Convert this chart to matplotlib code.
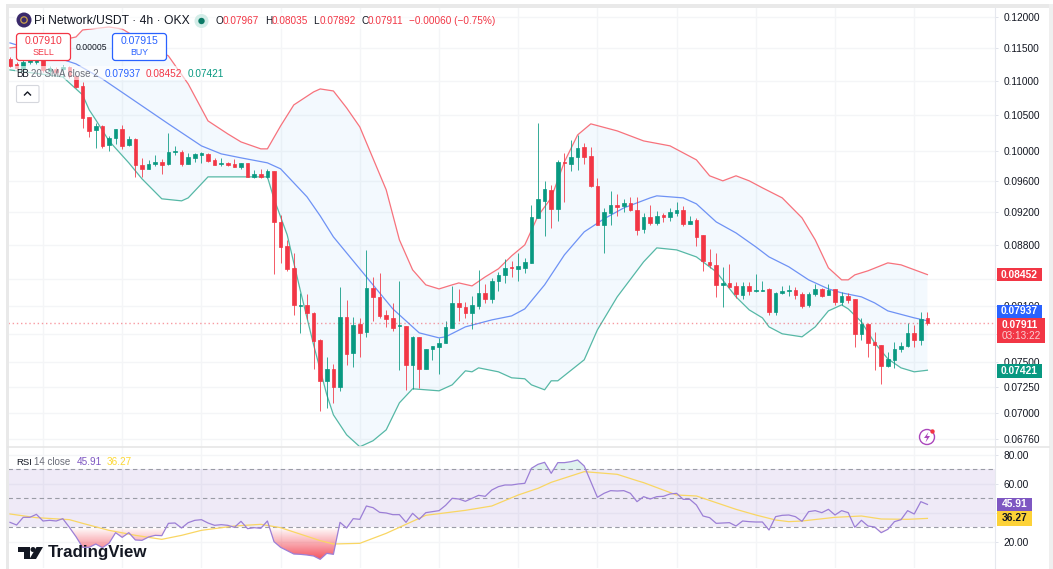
#!/usr/bin/env python3
import numpy as np
import matplotlib
matplotlib.use('Agg')
import matplotlib.pyplot as plt
from matplotlib.patches import Rectangle, FancyBboxPatch, Circle, Polygon
from matplotlib.path import Path

W, H = 1053, 569
plt.rcParams['font.family'] = ['Liberation Sans', 'DejaVu Sans']

# 4h candles, oldest first
opens = [
    .11335, .11258, .11181, .11289, .11289, .11319, .11151, .11181, .11181, .11212,
    .11075, .10925, .10475, .10291, .10347, .10084, .10180, .10305, .10084, .10166,
    .09813, .09760, .09827, .09853, .09827, .09988, .09988, .09827, .09907, .09947,
    .09961, .09880, .09827, .09840, .09827, .09786, .09840, .09654, .09694, .09654,
    .09733, .09080, .08789, .08530, .08100, .08111, .08023, .07734, .07315, .07435,
    .07256, .07980, .07599, .07904, .07819, .08301, .08200, .08001, .07969, .07883,
    .07883, .07476, .07766, .07435, .07640, .07661, .07703, .07861, .08133, .08089,
    .08023, .08100, .08245, .08178, .08380, .08449, .08542, .08519, .08530, .08588,
    .09130, .09344, .09485, .09243, .09853, .09827, .09920, .10056, .09934, .09537,
    .09043, .09193, .09293, .09281, .09319, .09230, .08994, .09142, .09068, .09167,
    .09142, .09193, .09230, .09055, .09105, .08921, .08600, .08565, .08335, .08357,
    .08323, .08223, .08323, .08267, .08267, .08289, .08034, .08245, .08267, .08278,
    .08234, .08111, .08234, .08289, .08223, .08289, .08144, .08211, .08178, .07798,
    .07904, .07713, .07682, .07466, .07527, .07640, .07672, .07808, .07734, .07967]
highs = [
    .11366, .11289, .11319, .11350, .11366, .11335, .11227, .11212, .11243, .11227,
    .11090, .10985, .10475, .10390, .10361, .10207, .10305, .10361, .10207, .10180,
    .09907, .09880, .09947, .09893, .10249, .10070, .10015, .09974, .09974, .09988,
    .09974, .09907, .09907, .09853, .09893, .09840, .09840, .09746, .09760, .09760,
    .09733, .09167, .08861, .08705, .08245, .08234, .08034, .07745, .07558, .07486,
    .08312, .08167, .07980, .07969, .08741, .08426, .08472, .08056, .08133, .08380,
    .07883, .07777, .07766, .07640, .07672, .07755, .07936, .08323, .08289, .08144,
    .08211, .08507, .08346, .08415, .08484, .08635, .08611, .08705, .08647, .09293,
    .10390, .09602, .09550, .09880, .09974, .10152, .10221, .10111, .10056, .09641,
    .09255, .09472, .09433, .09370, .09395, .09395, .09193, .09293, .09218, .09193,
    .09255, .09332, .09281, .09155, .09130, .08921, .08753, .08705, .08542, .08577,
    .08369, .08369, .08369, .08461, .08380, .08301, .08256, .08323, .08335, .08312,
    .08256, .08256, .08346, .08301, .08346, .08289, .08256, .08245, .08178, .07969,
    .07915, .07819, .07682, .07609, .07713, .07713, .07915, .07893, .08034, .08035]
lows = [
    .11212, .11166, .11166, .11258, .11258, .11136, .11090, .11105, .11060, .11045,
    .10896, .10319, .10193, .10042, .10042, .10001, .10097, .10029, .10070, .09654,
    .09654, .09760, .09800, .09694, .09813, .09947, .09800, .09827, .09853, .09840,
    .09853, .09813, .09800, .09800, .09786, .09760, .09654, .09641, .09641, .09641,
    .08461, .08588, .08496, .08001, .07808, .07958, .07435, .07022, .07051, .07099,
    .07216, .07476, .07456, .07558, .07766, .07936, .07969, .07872, .07830, .07425,
    .07226, .07236, .07246, .07435, .07527, .07385, .07703, .07861, .07936, .07969,
    .07851, .08067, .08133, .08133, .08267, .08357, .08426, .08380, .08472, .08588,
    .09130, .08909, .09007, .09093, .09332, .09733, .09746, .09827, .09524, .09043,
    .08705, .09043, .09155, .09205, .09218, .08921, .08945, .09043, .09043, .09080,
    .09093, .09155, .09031, .09055, .08789, .08496, .08530, .08200, .08089, .08301,
    .08189, .08178, .08223, .08256, .08267, .08001, .08001, .08234, .08211, .08178,
    .08078, .08089, .08211, .08200, .08223, .08111, .08111, .08133, .07661, .07734,
    .07558, .07425, .07285, .07456, .07445, .07609, .07661, .07661, .07682, .07892]
closes = [
    .11227, .11197, .11289, .11319, .11319, .11166, .11197, .11136, .11212, .11075,
    .10910, .10461, .10277, .10347, .10070, .10180, .10305, .10070, .10166, .09813,
    .09760, .09827, .09853, .09813, .09988, .10001, .09827, .09920, .09961, .09974,
    .09867, .09813, .09840, .09813, .09786, .09840, .09654, .09694, .09654, .09733,
    .09080, .08777, .08519, .08111, .08111, .08023, .07723, .07315, .07435, .07256,
    .07980, .07589, .07893, .07808, .08301, .08200, .07990, .07958, .07861, .07890,
    .07476, .07766, .07435, .07640, .07672, .07703, .07872, .08133, .08089, .08023,
    .08111, .08245, .08178, .08380, .08449, .08530, .08530, .08553, .08600, .09142,
    .09370, .09498, .09243, .09853, .09840, .09920, .10042, .09920, .09537, .09043,
    .09205, .09293, .09268, .09319, .09230, .08982, .09142, .09068, .09155, .09142,
    .09205, .09230, .09055, .09093, .08897, .08611, .08565, .08335, .08357, .08312,
    .08234, .08323, .08267, .08278, .08278, .08034, .08245, .08267, .08278, .08223,
    .08100, .08234, .08289, .08211, .08278, .08144, .08211, .08167, .07798, .07904,
    .07703, .07682, .07466, .07537, .07640, .07672, .07808, .07734, .07958, .07911]

# Bollinger bands, bar index and price at each bend of the line
bb_upper_idx = [0, 5, 10, 11, 15, 17, 20, 24, 27, 30, 33, 35, 38, 39, 41, 43, 46, 47, 49, 51,
                53, 57, 59, 61, 63, 65, 67, 68, 70, 72, 74, 76, 78, 80, 82, 84, 86, 88, 92, 96,
                100, 104, 106, 108, 110, 112, 114, 117, 120, 122, 124, 126, 127, 128, 130, 133, 135, 139]
bb_upper = [.11505, .11568, .11678, .11790, .11838, .11806, .11615, .11381, .10955, .10418,
            .10235, .10124, .10029, .10029, .10347, .10647, .10837, .10881, .10851, .10604,
            .10333, .09485, .08861, .08507, .08335, .08289, .08335, .08357, .08323, .08426,
            .08519, .08670, .08801, .09155, .09382, .09853, .10221, .10376, .10277, .10138,
            .10070, .09880, .09668, .09602, .09668, .09602, .09511, .09382, .09130, .08861,
            .08530, .08392, .08392, .08449, .08496, .08588, .08565, .08452]
bb_mid_idx = [0, 5, 10, 14, 18, 24, 29, 32, 35, 39, 41, 43, 45, 47, 49, 54, 58, 62, 65, 66,
              69, 73, 76, 78, 81, 84, 87, 90, 93, 97, 98, 102, 104, 107, 110, 113, 115, 118,
              121, 124, 126, 129, 131, 133, 137, 139]
bb_mid = [.11584, .11427, .11258, .11030, .10764, .10376, .10070, .09961, .09907, .09840,
          .09760, .09576, .09395, .09155, .08897, .08426, .08067, .07808, .07755, .07766,
          .07872, .07947, .07990, .08067, .08335, .08682, .08958, .09118, .09255, .09382,
          .09408, .09382, .09306, .09080, .08945, .08777, .08658, .08542, .08392, .08289,
          .08245, .08200, .08133, .08045, .07969, .07937]
bb_lower_idx = [0, 8, 11, 12, 13, 15, 18, 20, 23, 26, 27, 30, 33, 39, 40, 42, 44, 46, 48, 49,
                51, 53, 55, 57, 59, 61, 65, 67, 69, 70, 71, 74, 76, 78, 79, 81, 82, 83, 87, 89,
                92, 96, 98, 101, 104, 107, 110, 112, 114, 115, 117, 120, 122, 124, 126, 127,
                129, 131, 133, 135, 137, 139]
bb_lower = [.11166, .11060, .10793, .10575, .10432, .10138, .09840, .09628, .09370, .09344,
            .09382, .09654, .09654, .09654, .09370, .08921, .08267, .07682, .07177, .06984,
            .06797, .06687, .06742, .06843, .07099, .07236, .07216, .07275, .07415, .07405,
            .07445, .07405, .07345, .07335, .07275, .07226, .07315, .07315, .07527, .07840,
            .08200, .08600, .08765, .08741, .08658, .08484, .08200, .08056, .07969, .07872,
            .07798, .07766, .07872, .08045, .08111, .08067, .07926, .07703, .07537, .07445,
            .07405, .07421]

rsi = [33.56, 31.72, 37.01, 37.01, 39.07, 34.48, 34.94, 34.48, 36.09, 30.11,
       23.67, 16.32, 16.32, 18.62, 16.09, 19.08, 26.43, 23.21, 26.43, 21.37,
       21.14, 23.44, 24.59, 24.36, 32.87, 33.10, 29.65, 33.33, 34.94, 35.40,
       33.10, 31.49, 31.95, 31.49, 30.11, 34.25, 29.19, 29.88, 29.42, 34.48,
       20.23, 16.32, 14.02, 11.72, 11.49, 11.03, 10.34, 8.04, 12.18, 11.49,
       33.56, 29.65, 36.09, 35.63, 44.82, 43.67, 40.46, 40.00, 38.85, 38.85,
       33.56, 39.77, 35.63, 40.23, 40.92, 41.61, 45.28, 50.11, 49.65, 48.05,
       50.11, 52.18, 51.49, 55.86, 58.16, 59.31, 59.31, 60.00, 60.46, 70.80,
       73.56, 74.94, 67.35, 74.71, 74.71, 75.40, 76.55, 72.41, 61.60, 50.80,
       53.56, 55.40, 55.17, 55.40, 53.56, 47.81, 51.26, 49.65, 51.26, 51.49,
       53.10, 53.56, 49.42, 49.42, 45.51, 37.93, 36.78, 32.87, 33.10, 33.33,
       31.03, 34.48, 34.02, 33.79, 33.79, 28.27, 37.47, 38.39, 38.62, 37.47,
       34.25, 40.92, 41.61, 40.23, 42.52, 38.62, 41.61, 40.23, 30.11, 34.94,
       31.03, 30.34, 26.43, 28.73, 34.02, 35.40, 41.61, 39.31, 47.81, 45.91]
rsi_ma_idx = [0, 4, 9, 11, 15, 19, 23, 26, 29, 34, 38, 41, 47, 49, 53, 57, 59, 63, 69, 73,
              77, 80, 82, 87, 92, 95, 96, 101, 104, 110, 113, 116, 118, 120, 125, 129, 132, 136, 139]
rsi_ma = [39.31, 36.78, 35.40, 32.87, 28.04, 24.59, 21.83, 24.59, 28.04, 31.03,
          32.18, 29.88, 20.92, 18.62, 19.08, 25.97, 30.11, 38.39, 41.83, 44.82,
          52.41, 57.01, 61.14, 68.50, 66.66, 62.29, 60.92, 52.41, 51.72, 42.52,
          38.62, 35.17, 34.02, 34.48, 37.01, 37.93, 35.86, 35.63, 36.27]

price_ticks = [.12, .115, .11, .105, .10, .096, .092, .088, .084, .081, .078, .075, .0725, .07, .0676]
# 0.084, 0.078 sit fully under the coloured price tags
price_hidden = [.084, .078]
rsi_ticks = [80, 60, 40, 20]
grid_bars = list(range(5, 140, 12))

UP = '#089981'
DOWN = '#F23645'
BLUE = '#2962FF'
GRID = '#F4F5F7'
TXT = '#131722'
PURPLE = '#7E57C2'
YELLOW = '#FDD835'

fig = plt.figure(figsize=(W / 100, H / 100), dpi=100, facecolor='white')
ax = fig.add_axes([8 / W, 1 - 447 / H, 987 / W, 440 / H])
ax2 = fig.add_axes([8 / W, 1 - 568 / H, 987 / W, 121 / H])

x = np.arange(len(closes))
xlim = (-0.303, 149.24)

# ---- price pane
ax.set_yscale('log')
ax.set_xlim(xlim)
ax.set_ylim(.06685, .12164)
for b in grid_bars:
    ax.axvline(b, color=GRID, lw=1, zorder=0)
for t in price_ticks:
    ax.axhline(t, color=GRID, lw=1, zorder=0)

poly_x = np.r_[bb_upper_idx, bb_lower_idx[::-1]]
poly_y = np.r_[bb_upper, bb_lower[::-1]]
ax.fill(poly_x, poly_y, color='#2196F3', alpha=0.05, lw=0, zorder=1)
ax.plot(bb_upper_idx, bb_upper, color='#F7727C', lw=0.9, zorder=2)
ax.plot(bb_mid_idx, bb_mid, color='#6E92F5', lw=0.9, zorder=2)
ax.plot(bb_lower_idx, bb_lower, color='#56B8A6', lw=0.9, zorder=2)

colors = [UP if c >= o else DOWN for o, c in zip(opens, closes)]
ax.vlines(x, lows, highs, colors=colors, lw=0.72, alpha=0.8, zorder=3)
body_low = np.minimum(opens, closes)
body_h = np.abs(np.array(closes) - np.array(opens))
ax.bar(x, body_h, width=0.56, bottom=body_low, color=colors, edgecolor=colors, lw=0.5, zorder=4)
ax.axhline(closes[-1], color=DOWN, lw=1, ls=(0, (1, 2)), alpha=0.5, zorder=3)

ax.minorticks_off()
ax.yaxis.tick_right()
ax.set_yticks(price_ticks)
ax.set_yticklabels(['' if t in price_hidden else f'{t:.5f}' for t in price_ticks])
ax.tick_params(axis='y', which='major', length=2.5, width=0.7, color='#E0E3EB', labelsize=7.3, labelcolor=TXT, pad=3.5)
ax.tick_params(axis='y', which='minor', length=0)
ax.set_xticks([])

# ---- rsi pane
ax2.set_xlim(xlim)
ax2.set_ylim(2.07, 85.5)
for b in grid_bars:
    ax2.axvline(b, color=GRID, lw=1, zorder=0)
for t in rsi_ticks:
    ax2.axhline(t, color=GRID, lw=1, zorder=0)
ax2.axhspan(30, 70, color=PURPLE, alpha=0.12, lw=0, zorder=1)
for level in (70, 50, 30):
    ax2.axhline(level, color='#9A9CA6', lw=0.8, ls=(0, (4, 3)), zorder=2)

rsi_arr = np.array(rsi)
# oversold part fades from the 30 line down to solid red
grad = np.zeros((64, 2, 4))
grad[..., :3] = matplotlib.colors.to_rgb(DOWN)
grad[..., 3] = np.linspace(0.0, 0.9, 64)[:, None]
low_fill = ax2.fill_between(x, rsi_arr, 30, where=rsi_arr < 30, interpolate=True, color='none', lw=0)
im = ax2.imshow(grad, extent=(xlim[0], xlim[1], 7, 30), aspect='auto', zorder=2, interpolation='bilinear')
im.set_clip_path(Path.make_compound_path(*low_fill.get_paths()), transform=ax2.transData)
ax2.fill_between(x, rsi_arr, 70, where=rsi_arr > 70, interpolate=True, color=UP, alpha=0.12, lw=0, zorder=2)
ax2.set_xlim(xlim)
ax2.set_ylim(2.07, 85.5)

ax2.plot(rsi_ma_idx, rsi_ma, color='#F9D663', lw=0.9, zorder=3)
ax2.plot(x, rsi, color='#9C7FD6', lw=0.9, zorder=4)

ax2.yaxis.tick_right()
ax2.set_yticks(rsi_ticks)
ax2.set_yticklabels(['' if t == 40 else f'{t:.2f}' for t in rsi_ticks])
ax2.tick_params(axis='y', length=2.5, width=0.7, color='#E0E3EB', labelsize=7.3, labelcolor=TXT, pad=3.5)
ax2.set_xticks([])

for a in (ax, ax2):
    for s in a.spines.values():
        s.set_visible(False)
    a.spines['right'].set_visible(True)
    a.spines['right'].set_color('#E6E8EE')
    a.spines['right'].set_linewidth(0.8)
    a.patch.set_alpha(0)

# ---- overlay in pixels for everything that is chrome
ov = fig.add_axes([0, 0, 1, 1], zorder=10)
ov.set_xlim(0, W)
ov.set_ylim(H, 0)
ov.axis('off')
ov.patch.set_alpha(0)


def price_y(a, val):
    return H - a.transData.transform((0, val))[1]


def label_box(y, s, color, x0=997, x1=1042, h=13.5, fc='white', size=7.4):
    ov.add_patch(Rectangle((x0, y - h / 2), x1 - x0, h, color=color, lw=0, zorder=5))
    ov.text((x0 + x1) / 2, y, s, color=fc, fontsize=size, ha='center', va='center', fontweight='bold', zorder=6)


# window edges
ov.add_patch(Rectangle((6, 4), W - 6, 3.5, color='#E9E9E9', lw=0))
ov.add_patch(Rectangle((6, 4), 2.5, H - 4, color='#E9E9E9', lw=0))
ov.add_patch(Rectangle((1049, 4), 4, H - 4, color='#EFEFEF', lw=0))
ov.plot([8, 1049], [447, 447], color='#E6E6E6', lw=1.2)

# price labels on the axis
label_box(price_y(ax, bb_upper[-1]), f'{bb_upper[-1]:.5f}', DOWN)
label_box(price_y(ax, bb_lower[-1]) + 1, f'{bb_lower[-1]:.5f}', UP)
yc = price_y(ax, closes[-1])
ov.add_patch(Rectangle((997, yc - 5.5), 48, 25, color=DOWN, lw=0, zorder=5))
ov.text(1020, yc + 1.5, f'{closes[-1]:.5f}', color='white', fontsize=7.4, fontweight='bold', ha='center', va='center', zorder=6)
ov.text(1021, yc + 12.5, '03:13:22', color='#FBD0D4', fontsize=7.2, ha='center', va='center', zorder=6)
label_box(yc - 12, f'{bb_mid[-1]:.5f}', BLUE, h=13)
label_box(price_y(ax2, rsi[-1]), f'{rsi[-1]:.2f}', PURPLE, x1=1032, h=13)
label_box(price_y(ax2, rsi_ma[-1]), f'{rsi_ma[-1]:.2f}', '#FDD238', x1=1032, h=14.5, fc=TXT)

# legend header
ov.add_patch(Rectangle((15, 66), 210, 14, color='white', alpha=0.6, lw=0))
ov.add_patch(Rectangle((15, 13), 480, 16, color='white', alpha=0.6, lw=0))
ov.add_patch(Circle((24, 20), 7.5, color='#3A2A6B', lw=0))
ov.add_patch(Circle((24, 20), 3.2, fc='none', ec='#C9A24A', lw=0.9))
ov.text(34, 20.5, 'Pi Network/USDT · 4h · OKX', color=TXT, fontsize=8.7, va='center')
ov.add_patch(Circle((201.5, 21), 7, color='#D3EDE8', lw=0))
ov.add_patch(Circle((201.5, 21), 3.2, color='#0B7A66', lw=0))

ohlc = [(216, 'O', f'{opens[-1]:.5f}'), (265, 'H', f'{highs[-1]:.5f}'),
        (313, 'L', f'{lows[-1]:.5f}'), (361, 'C', f'{closes[-1]:.5f}')]
for px, k, v in ohlc:
    ov.text(px, 21, k, color=TXT, fontsize=7.2, va='center')
    ov.text(px + 7, 21, v, color=DOWN, fontsize=7.2, va='center')
ov.text(409, 21, '\u22120.00060 (\u22120.75%)', color=DOWN, fontsize=7.2, va='center')

# sell / buy buttons
for x0, c, price, word in [(16.5, DOWN, '0.07910', 'SELL'), (112.5, BLUE, '0.07915', 'BUY')]:
    ov.add_patch(FancyBboxPatch((x0, 33.5), 54, 27, boxstyle='round,pad=0,rounding_size=3', fc='white', ec=c, lw=0.9,
                                zorder=3))
    ov.text(x0 + 27, 41, price, color=c, fontsize=7.6, ha='center', va='center', zorder=4)
    ov.text(x0 + 27, 52, word, color=c, fontsize=6.4, ha='center', va='center', zorder=4)
ov.text(91.5, 47, '0.00005', color=TXT, fontsize=6.2, ha='center', va='center', zorder=4)

# indicator legends
ov.text(16, 73.5, 'BB', color=TXT, fontsize=7, va='center')
ov.text(31, 73.5, '20 SMA close 2', color='#6A6D78', fontsize=7, va='center')
ov.text(105, 73.5, f'{bb_mid[-1]:.5f}', color=BLUE, fontsize=7.2, va='center')
ov.text(146, 73.5, f'{bb_upper[-1]:.5f}', color=DOWN, fontsize=7.2, va='center')
ov.text(187.5, 73.5, f'{bb_lower[-1]:.5f}', color=UP, fontsize=7.2, va='center')
ov.add_patch(FancyBboxPatch((16.5, 85.5), 22.5, 17, boxstyle='round,pad=0,rounding_size=1.5', fc='white', ec='#D5D7DD', lw=0.8))
ov.plot([24.5, 27.5, 30.5], [95, 92, 95], color=TXT, lw=1)

ov.text(16, 462, 'RSI', color=TXT, fontsize=6.8, va='center')
ov.text(33.5, 462, '14 close', color='#6A6D78', fontsize=7, va='center')
ov.text(77, 462, f'{rsi[-1]:.2f}', color=PURPLE, fontsize=7.2, va='center')
ov.text(107, 462, f'{rsi_ma[-1]:.2f}', color=YELLOW, fontsize=7.2, va='center')

# lightning badge
ov.add_patch(Circle((927, 437), 7.5, fc='white', ec='#AB47BC', lw=1))
ov.add_patch(Polygon([(928.5, 432), (924, 438), (927, 438), (925.5, 442.5), (930, 436), (927, 436)], color='#AB47BC', lw=0))
ov.add_patch(Circle((932.5, 431.5), 2.2, color='#F23645', lw=0))

# tradingview logo
ov.add_patch(Polygon([(18, 547), (30, 547), (30, 559), (24, 559), (24, 552), (18, 552)], color='#131722', lw=0))
ov.add_patch(Circle((33, 549.5), 2.5, color='#131722', lw=0))
ov.add_patch(Polygon([(36.5, 547), (43, 547), (36, 559), (29.5, 559)], color='#131722', lw=0))
ov.text(47.5, 553, 'TradingView', color='#131722', fontsize=12.2, fontweight='bold', va='center')

plt.savefig('out.png', dpi=100)
